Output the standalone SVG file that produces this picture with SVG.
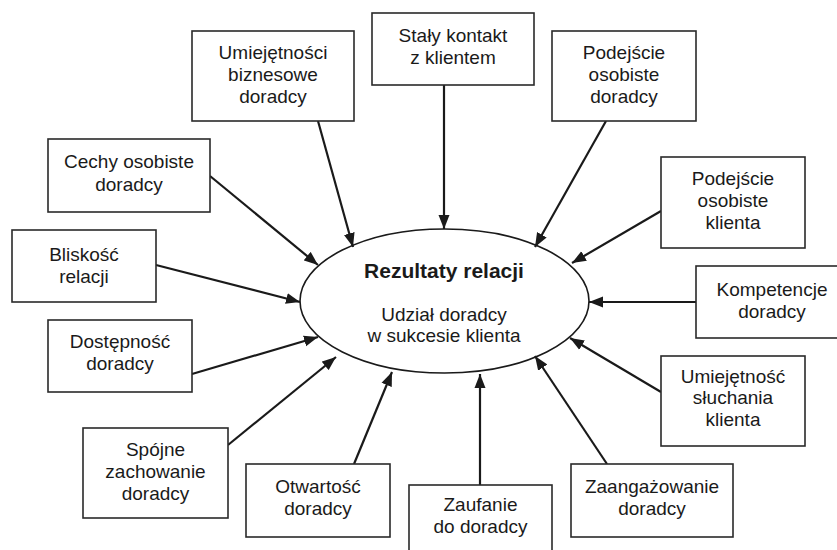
<svg xmlns="http://www.w3.org/2000/svg" width="837" height="550" viewBox="0 0 837 550">
<defs>
<style>
.box{fill:#fff;stroke:#2a2a2a;stroke-width:1.6}
.t{font-family:"Liberation Sans",Arial,Helvetica,sans-serif;font-size:19px;fill:#1a1a1a;text-anchor:middle}
.b{font-weight:bold;font-size:21px}
.c{stroke:#1a1a1a;stroke-width:2.2;fill:none;marker-end:url(#ah)}
</style>
<marker id="ah" markerUnits="userSpaceOnUse" markerWidth="15" markerHeight="12" refX="14" refY="6" orient="auto">
<path d="M0,0.5 L14,6 L0,11.5 z" fill="#1a1a1a"/>
</marker>
</defs>
<rect width="837" height="550" fill="#fff"/>
<g id="center">
<ellipse cx="444.5" cy="301" rx="144.5" ry="72" fill="#fff" stroke="#1a1a1a" stroke-width="1.6"/>
<text class="t b" x="444" y="278">Rezultaty relacji</text>
<text class="t" x="444" y="321">Udział doradcy</text>
<text class="t" x="444" y="342">w sukcesie klienta</text>
</g>
<g id="connectors">
<line class="c" x1="318" y1="121" x2="353" y2="247"/>
<line class="c" x1="444" y1="85" x2="444" y2="229"/>
<line class="c" x1="606" y1="121" x2="535" y2="247"/>
<line class="c" x1="661" y1="211" x2="572" y2="263"/>
<line class="c" x1="696" y1="302" x2="589" y2="302"/>
<line class="c" x1="661" y1="392" x2="570" y2="338"/>
<line class="c" x1="607" y1="464" x2="535" y2="356"/>
<line class="c" x1="480" y1="485" x2="480" y2="374"/>
<line class="c" x1="354" y1="464" x2="392" y2="372"/>
<line class="c" x1="228" y1="445" x2="336" y2="357"/>
<line class="c" x1="192" y1="374" x2="318" y2="337"/>
<line class="c" x1="156" y1="265" x2="300" y2="302"/>
<line class="c" x1="210" y1="176" x2="318" y2="265"/>
</g>
<g id="n1"><rect class="box" x="192" y="31" width="162" height="90"/>
<text class="t" x="273" y="59">Umiejętności</text><text class="t" x="273" y="81">biznesowe</text><text class="t" x="273" y="103">doradcy</text></g>
<g id="n2"><rect class="box" x="372" y="13" width="162" height="72"/>
<text class="t" x="453" y="42">Stały kontakt</text><text class="t" x="453" y="64">z klientem</text></g>
<g id="n3"><rect class="box" x="552" y="31" width="144" height="90"/>
<text class="t" x="624" y="59">Podejście</text><text class="t" x="624" y="81">osobiste</text><text class="t" x="624" y="103">doradcy</text></g>
<g id="n4"><rect class="box" x="661" y="157" width="144" height="91"/>
<text class="t" x="733" y="185">Podejście</text><text class="t" x="733" y="207">osobiste</text><text class="t" x="733" y="229">klienta</text></g>
<g id="n5"><rect class="box" x="696" y="266" width="154" height="72"/>
<text class="t" x="772" y="296">Kompetencje</text><text class="t" x="772" y="318">doradcy</text></g>
<g id="n6"><rect class="box" x="661" y="356" width="144" height="90"/>
<text class="t" x="733" y="383">Umiejętność</text><text class="t" x="733" y="404">słuchania</text><text class="t" x="733" y="426">klienta</text></g>
<g id="n7"><rect class="box" x="571" y="464" width="162" height="73"/>
<text class="t" x="652" y="493">Zaangażowanie</text><text class="t" x="652" y="515">doradcy</text></g>
<g id="n8"><rect class="box" x="409" y="485" width="143" height="75"/>
<text class="t" x="480.5" y="511">Zaufanie</text><text class="t" x="480.5" y="533">do doradcy</text></g>
<g id="n9"><rect class="box" x="246" y="464" width="144" height="73"/>
<text class="t" x="318" y="493">Otwartość</text><text class="t" x="318" y="515">doradcy</text></g>
<g id="n10"><rect class="box" x="83" y="428" width="145" height="90"/>
<text class="t" x="155.5" y="456">Spójne</text><text class="t" x="155.5" y="478">zachowanie</text><text class="t" x="155.5" y="500">doradcy</text></g>
<g id="n11"><rect class="box" x="48" y="320" width="144" height="72"/>
<text class="t" x="120" y="348">Dostępność</text><text class="t" x="120" y="370">doradcy</text></g>
<g id="n12"><rect class="box" x="12" y="230" width="144" height="72"/>
<text class="t" x="84" y="261">Bliskość</text><text class="t" x="84" y="283">relacji</text></g>
<g id="n13"><rect class="box" x="48" y="139" width="162" height="73"/>
<text class="t" x="129" y="168">Cechy osobiste</text><text class="t" x="129" y="191">doradcy</text></g>
</svg>
